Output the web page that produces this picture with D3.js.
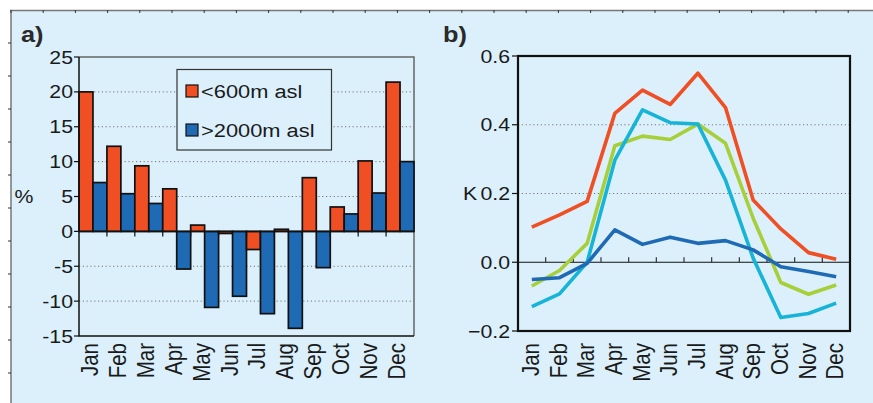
<!DOCTYPE html>
<html>
<head>
<meta charset="utf-8">
<script src="https://cdn.jsdelivr.net/npm/d3@7"></script>
<style>
  body { margin: 0; background: #fff; }
  text { font-family: "Liberation Sans", Arial, Helvetica, sans-serif; fill: #1a1a1a; }
</style>
</head>
<body>
<div id="chart"></div>
<script>
// month labels shared by both panels
var months = ["Jan", "Feb", "Mar", "Apr", "May", "Jun", "Jul", "Aug", "Sep", "Oct", "Nov", "Dec"];

// panel a) percentages
var lowAlt  = [20.0, 12.2, 9.4, 6.1, 0.9, -0.3, -2.6, 0.3, 7.7, 3.5, 10.1, 21.4];
var highAlt = [7.0, 5.4, 4.0, -5.4, -10.9, -9.3, -11.8, -13.9, -5.2, 2.5, 5.5, 10.0];
var barNames = ["<600m asl", ">2000m asl"];
var aTicks = [25, 20, 15, 10, 5, 0, -5, -10, -15];

// panel b) K
var redLine   = [0.102, 0.138, 0.177, 0.433, 0.501, 0.459, 0.550, 0.450, 0.181, 0.097, 0.028, 0.009];
var greenLine = [-0.069, -0.024, 0.055, 0.339, 0.367, 0.357, 0.402, 0.346, 0.128, -0.059, -0.093, -0.066];
var cyanLine  = [-0.129, -0.092, 0.000, 0.297, 0.443, 0.406, 0.402, 0.239, 0.012, -0.161, -0.149, -0.119];
var blueLine  = [-0.050, -0.045, -0.003, 0.094, 0.052, 0.073, 0.055, 0.063, 0.036, -0.013, -0.027, -0.042];
var bTicks = [0.6, 0.4, 0.2, 0.0, -0.2];

var width = 873, height = 403;
var stretch = 1.15; // the original type is a bit wide

var svg = d3.select("#chart").append("svg")
    .attr("width", width)
    .attr("height", height);

// background + frame lines
svg.append("rect").attr("x", 11).attr("y", 11).attr("width", width - 11).attr("height", height - 11)
    .attr("fill", "#dbf0fb");
svg.append("line").attr("x1", 10).attr("x2", width).attr("y1", 10.5).attr("y2", 10.5)
    .attr("stroke", "#777").attr("stroke-width", 1.5);
svg.append("line").attr("x1", 11).attr("x2", 11).attr("y1", 10).attr("y2", height)
    .attr("stroke", "#777").attr("stroke-width", 1.5);
// little frame ticks
d3.range(11, width, 32.2).forEach(function(x) {
    svg.append("line").attr("x1", x).attr("x2", x).attr("y1", 10).attr("y2", 13).attr("stroke", "#333");
});
d3.range(43, height, 33).forEach(function(y) {
    svg.append("line").attr("x1", 8).attr("x2", 11).attr("y1", y).attr("y2", y).attr("stroke", "#333");
});

//helper for stretched text
function label(g, x, y, str, anchor, size, weight) {
    return g.append("text")
        .attr("transform", "translate(" + x + "," + y + ") scale(" + stretch + ",1)")
        .attr("text-anchor", anchor)
        .style("font-size", size + "px")
        .style("font-weight", weight || "normal")
        .text(str);
}

////////// panel a \\\\\\\\\\
var ax0 = 79, ax1 = 414, ay0 = 57, ay1 = 336;
var xA = d3.scaleBand().domain(months).range([ax0, ax1]).padding(0);
var xSub = d3.scaleBand().domain(barNames).range([0, xA.bandwidth()]).padding(0);
var yA = d3.scaleLinear().domain([-15, 25]).range([ay1, ay0]);

var ga = svg.append("g");

// dotted grid
ga.selectAll(".grid").data(aTicks.filter(function(t) { return t != 0 && t != 25 && t != -15; }))
    .enter().append("line")
    .attr("x1", ax0).attr("x2", ax1)
    .attr("y1", function(d) { return yA(d); }).attr("y2", function(d) { return yA(d); })
    .attr("stroke", "#777").attr("stroke-dasharray", "1.2,2.6");

// grey top/right frame
ga.append("path")
    .attr("d", "M" + ax0 + "," + yA(25) + "H" + ax1 + "V" + yA(-15))
    .attr("fill", "none").attr("stroke", "#666").attr("stroke-width", 1.5);

// bars
var barData = [];
months.forEach(function(m, i) {
    barData.push({ month: m, key: barNames[0], value: lowAlt[i], color: "#f04e23" });
    barData.push({ month: m, key: barNames[1], value: highAlt[i], color: "#1f6ab4" });
});
ga.selectAll(".bar").data(barData).enter().append("rect")
    .attr("class", "bar")
    .attr("x", function(d) { return xA(d.month) + xSub(d.key); })
    .attr("width", xSub.bandwidth())
    .attr("y", function(d) { return yA(Math.max(0, d.value)); })
    .attr("height", function(d) { return Math.abs(yA(d.value) - yA(0)); })
    .attr("fill", function(d) { return d.color; })
    .attr("stroke", "#111").attr("stroke-width", 1.7);

// zero line + ticks at month boundaries
ga.append("line").attr("x1", ax0).attr("x2", ax1).attr("y1", yA(0)).attr("y2", yA(0))
    .attr("stroke", "#111").attr("stroke-width", 1.5);
months.slice(1).forEach(function(m) {
    ga.append("line").attr("x1", xA(m)).attr("x2", xA(m)).attr("y1", yA(0)).attr("y2", yA(0) + 5)
        .attr("stroke", "#111").attr("stroke-width", 1.2);
});

// left + bottom axis lines
ga.append("path")
    .attr("d", "M" + ax0 + "," + yA(25) + "V" + yA(-15) + "H" + ax1)
    .attr("fill", "none").attr("stroke", "#111").attr("stroke-width", 1.5);

aTicks.forEach(function(t) {
    ga.append("line").attr("x1", ax0 - 5).attr("x2", ax0).attr("y1", yA(t)).attr("y2", yA(t))
        .attr("stroke", "#111").attr("stroke-width", 1.2);
    label(ga, ax0 - 6, yA(t) + 6.5, t, "end", 18.5);
});
label(ga, 24, 203, "%", "middle", 18.5);
label(ga, 21, 42, "a)", "start", 22, "bold").style("fill", "#2a2a2a");

months.forEach(function(m) {
    ga.append("text")
        .attr("transform", "translate(" + (xA(m) + xA.bandwidth() / 2 + 5) + "," + (ay1 + 7) + ") scale(" + stretch + ",1) rotate(-90)")
        .attr("text-anchor", "end")
        .style("font-size", "20.5px")
        .text(m);
});

// legend
var leg = ga.append("g");
leg.append("rect").attr("x", 177).attr("y", 69.5).attr("width", 154.5).attr("height", 80.5)
    .attr("fill", "#dbf0fb").attr("stroke", "#333").attr("stroke-width", 1.2);
barNames.forEach(function(n, i) {
    var yy = 85 + i * 39;
    leg.append("rect").attr("x", 186).attr("y", yy).attr("width", 12).attr("height", 12)
        .attr("fill", i == 0 ? "#f04e23" : "#1f6ab4").attr("stroke", "#111").attr("stroke-width", 1.2);
    label(leg, 201, yy + 12.5, n, "start", 19);
});

////////// panel b \\\\\\\\\\
var bx0 = 518, bx1 = 850, by0 = 56, by1 = 331;
var xB = d3.scaleBand().domain(months).range([bx0, bx1]).padding(0);
var yB = d3.scaleLinear().domain([-0.2, 0.6]).range([by1, by0]);

var gb = svg.append("g");

[0.4, 0.2].forEach(function(t) {
    gb.append("line").attr("x1", bx0).attr("x2", bx1).attr("y1", yB(t)).attr("y2", yB(t))
        .attr("stroke", "#777").attr("stroke-dasharray", "1.2,2.6");
});
gb.append("line").attr("x1", bx0).attr("x2", bx1).attr("y1", yB(0)).attr("y2", yB(0))
    .attr("stroke", "#111").attr("stroke-width", 1.2);
months.slice(1).forEach(function(m) {
    gb.append("line").attr("x1", xB(m)).attr("x2", xB(m)).attr("y1", yB(0)).attr("y2", yB(0) - 5)
        .attr("stroke", "#333").attr("stroke-width", 1.2);
});

var line = d3.line()
    .x(function(d, i) { return xB(months[i]) + xB.bandwidth() / 2; })
    .y(function(d) { return yB(d); });

var series = [
    { values: greenLine, color: "#a6cf3a" },
    { values: redLine, color: "#f04e23" },
    { values: cyanLine, color: "#17b4d8" },
    { values: blueLine, color: "#1f6ab4" }
];
gb.selectAll(".series").data(series).enter().append("path")
    .attr("class", "series")
    .attr("d", function(d) { return line(d.values); })
    .attr("fill", "none")
    .attr("stroke", function(d) { return d.color; })
    .attr("stroke-width", 3.6)
    .attr("stroke-linejoin", "round");

gb.append("rect").attr("x", bx0).attr("y", by0).attr("width", bx1 - bx0).attr("height", by1 - by0)
    .attr("fill", "none").attr("stroke", "#111").attr("stroke-width", 2.2);

bTicks.forEach(function(t) {
    gb.append("line").attr("x1", bx0 - 6).attr("x2", bx0).attr("y1", yB(t)).attr("y2", yB(t))
        .attr("stroke", "#111").attr("stroke-width", 1.2);
    label(gb, bx0 - 8, yB(t) + 6.5, d3.format(".1f")(t), "end", 18.5);
});
label(gb, 470, yB(0.2) + 6.5, "K", "middle", 18.5);
label(gb, 443, 42, "b)", "start", 22, "bold").style("fill", "#2a2a2a");

months.forEach(function(m) {
    gb.append("text")
        .attr("transform", "translate(" + (xB(m) + xB.bandwidth() / 2 + 7) + "," + (by1 + 12) + ") scale(" + stretch + ",1) rotate(-90)")
        .attr("text-anchor", "end")
        .style("font-size", "20.5px")
        .text(m);
});
</script>
</body>
</html>
